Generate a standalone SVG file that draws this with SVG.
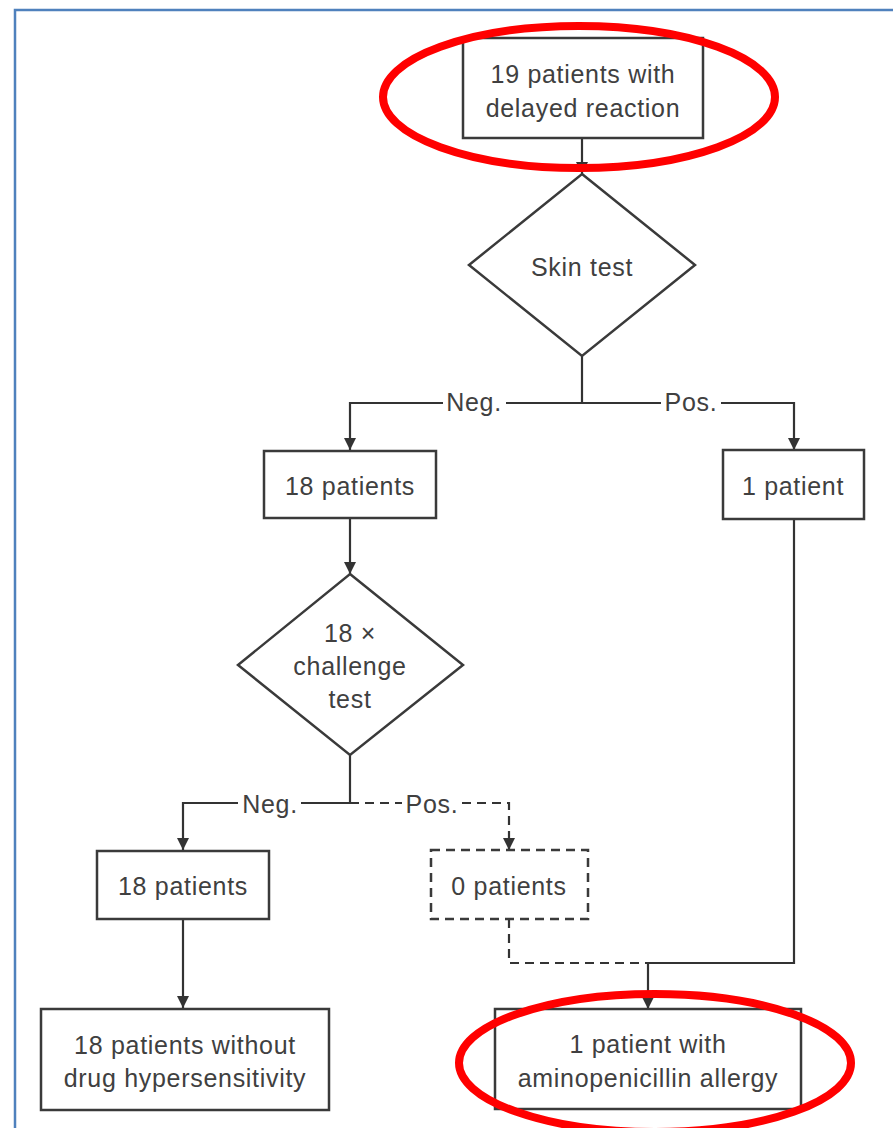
<svg xmlns="http://www.w3.org/2000/svg" width="893" height="1128" viewBox="0 0 893 1128">
<style>
.box{fill:#fff;stroke:#3a3a3a;stroke-width:2.5}
.dbox{fill:#fff;stroke:#3a3a3a;stroke-width:2.5;stroke-dasharray:9 6}
.ln{fill:none;stroke:#333;stroke-width:2.2}
.dl{fill:none;stroke:#333;stroke-width:2.2;stroke-dasharray:9 6}
.t{font-family:"Liberation Sans",Arial,sans-serif;font-size:25px;letter-spacing:0.7px;fill:#404040;text-anchor:middle}
.red{fill:none;stroke:#ff0000;stroke-width:8}
</style>
<defs>
<marker id="ah" viewBox="0 0 10 10" refX="10" refY="5" markerWidth="12" markerHeight="12" markerUnits="userSpaceOnUse" orient="auto">
<path d="M0,0 L10,5 L0,10 Z" fill="#333"/>
</marker>
</defs>
<rect width="893" height="1128" fill="#fff"/>
<rect x="15" y="10" width="900" height="1140" fill="none" stroke="#4f81bd" stroke-width="2.5"/>

<g id="connectors">
<line class="ln" x1="582" y1="138" x2="582" y2="174" marker-end="url(#ah)"/>
<line class="ln" x1="582" y1="356" x2="582" y2="403"/>
<polyline class="ln" points="443,403 350,403 350,450" marker-end="url(#ah)"/>
<line class="ln" x1="506" y1="403" x2="661" y2="403"/>
<polyline class="ln" points="721,403 794,403 794,450" marker-end="url(#ah)"/>
<line class="ln" x1="350" y1="518" x2="350" y2="574" marker-end="url(#ah)"/>
<line class="ln" x1="350" y1="755" x2="350" y2="803"/>
<polyline class="ln" points="238,803 183,803 183,850" marker-end="url(#ah)"/>
<line class="ln" x1="301" y1="803" x2="350" y2="803"/>
<line class="dl" x1="350" y1="803" x2="402" y2="803"/>
<polyline class="dl" points="462,803 509,803 509,850" marker-end="url(#ah)"/>
<polyline class="dl" points="509,919 509,963 648,963"/>
<polyline class="ln" points="794,519 794,963 648,963"/>
<line class="ln" x1="648" y1="963" x2="648" y2="1009" marker-end="url(#ah)"/>
<line class="ln" x1="183" y1="919" x2="183" y2="1008" marker-end="url(#ah)"/>
<text class="t" x="474" y="411">Neg.</text>
<text class="t" x="691" y="411">Pos.</text>
<text class="t" x="270" y="813">Neg.</text>
<text class="t" x="432" y="813">Pos.</text>
</g>

<g id="n1">
<rect class="box" x="463" y="38" width="240" height="100"/>
<text class="t" x="583" y="83">19 patients with</text>
<text class="t" x="583" y="117">delayed reaction</text>
</g>
<g id="skin">
<polygon class="box" points="582,174 695,265 582,356 469,265"/>
<text class="t" x="582" y="276">Skin test</text>
</g>
<g id="n18a">
<rect class="box" x="264" y="451" width="172" height="67"/>
<text class="t" x="350" y="495">18 patients</text>
</g>
<g id="n1p">
<rect class="box" x="723" y="450" width="141" height="69"/>
<text class="t" x="793" y="495">1 patient</text>
</g>
<g id="challenge">
<polygon class="box" points="350,574 463,665 350,755 238,665"/>
<text class="t" x="350" y="642">18 ×</text>
<text class="t" x="350" y="675">challenge</text>
<text class="t" x="350" y="708">test</text>
</g>
<g id="n18b">
<rect class="box" x="97" y="851" width="172" height="68"/>
<text class="t" x="183" y="895">18 patients</text>
</g>
<g id="n0">
<rect class="dbox" x="431" y="850" width="157" height="69"/>
<text class="t" x="509" y="895">0 patients</text>
</g>
<g id="nwithout">
<rect class="box" x="41" y="1009" width="288" height="101"/>
<text class="t" x="185" y="1054">18 patients without</text>
<text class="t" x="185" y="1087">drug hypersensitivity</text>
</g>
<g id="nallergy">
<rect class="box" x="495" y="1009" width="306" height="100"/>
<text class="t" x="648" y="1053">1 patient with</text>
<text class="t" x="648" y="1087">aminopenicillin allergy</text>
</g>

<g id="highlights">
<ellipse class="red" cx="579" cy="97" rx="196" ry="71"/>
<ellipse class="red" cx="655" cy="1063" rx="196" ry="69"/>
</g>
</svg>
